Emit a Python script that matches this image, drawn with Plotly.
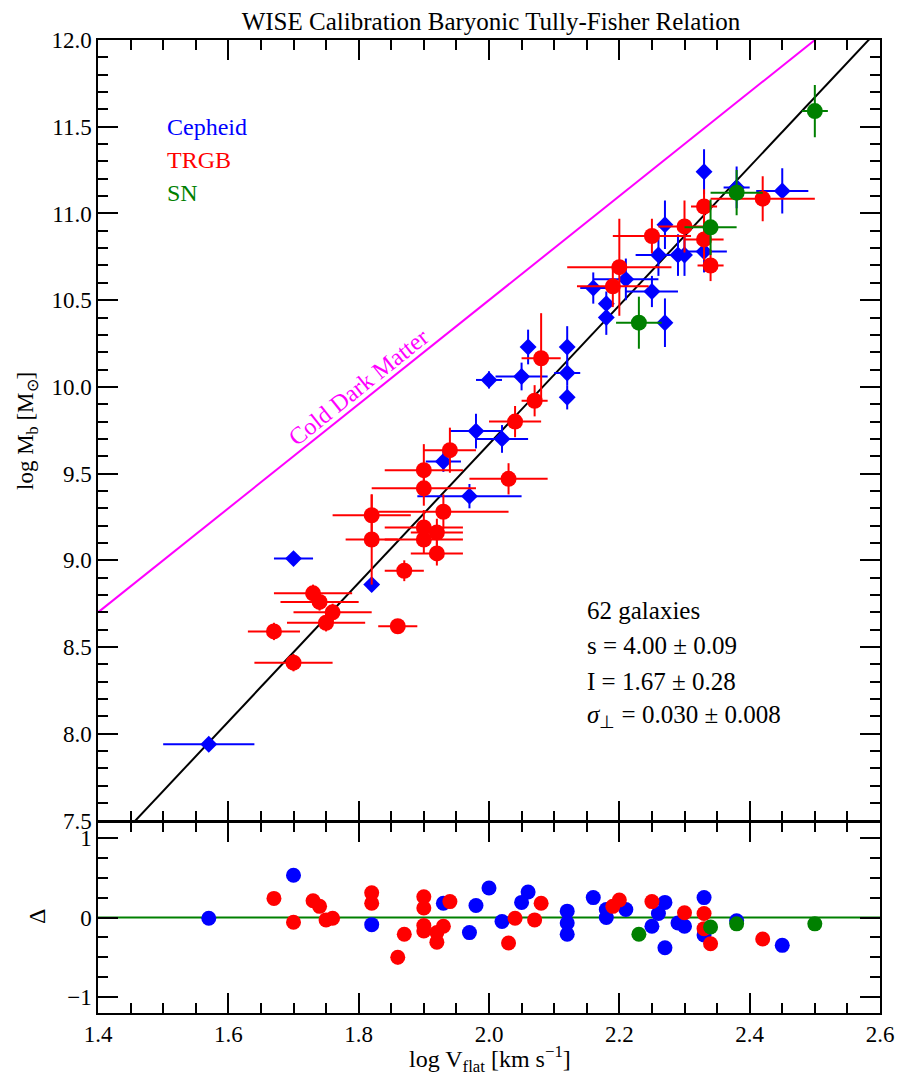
import plotly.graph_objects as go

# ---------------- data ----------------
# Cepheid calibrators
ceph_x = [1.57, 1.70, 1.82, 1.93, 1.97, 1.98, 2.00, 2.02, 2.05, 2.06, 2.12, 2.12, 2.12, 2.16,
          2.18, 2.18, 2.21, 2.25, 2.26, 2.27, 2.27, 2.29, 2.30, 2.33, 2.33, 2.38, 2.45]
ceph_y = [7.94, 9.01, 8.86, 9.57, 9.37, 9.745, 10.04, 9.70, 10.06, 10.23, 10.23, 10.08, 9.94, 10.57,
          10.48, 10.40, 10.62, 10.55, 10.76, 10.935, 10.37, 10.76, 10.76, 11.24, 10.78, 11.15, 11.13]
ceph_xerr = [0.07, 0.03, 0.01, 0.027, 0.08, 0.04, 0.02, 0.04, 0.04, 0.01, 0.01, 0.02, 0.01, 0.02,
             0.01, 0.01, 0.05, 0.04, 0.035, 0.01, 0.01, 0.01, 0.01, 0.01, 0.035, 0.02, 0.04]
ceph_yerr = [0.03, 0.03, 0.04, 0.06, 0.07, 0.10, 0.05, 0.08, 0.08, 0.10, 0.12, 0.07, 0.07, 0.09,
             0.07, 0.10, 0.12, 0.09, 0.12, 0.14, 0.14, 0.12, 0.12, 0.13, 0.12, 0.12, 0.13]
ceph_res = [-0.01, 0.53, -0.09, 0.18, -0.19, 0.15, 0.37, -0.05, 0.19, 0.32, 0.08, -0.07, -0.21, 0.25,
            0.10, 0.00, 0.10, -0.11, 0.05, 0.19, -0.38, -0.07, -0.11, 0.25, -0.22, -0.04, -0.35]
ceph_reserr = [0.0, 0.07, 0, 0, 0, 0, 0, 0, 0, 0, 0, 0, 0, 0,
               0, 0, 0, 0, 0, 0, 0, 0, 0, 0, 0, 0, 0]

# TRGB calibrators
trgb_x = [1.67, 1.70, 1.73, 1.74, 1.75, 1.76, 1.82, 1.82, 1.86, 1.87, 1.90, 1.90, 1.90, 1.90, 1.92,
          1.92, 1.93, 1.94, 2.03, 2.04, 2.07, 2.08, 2.19, 2.20, 2.25, 2.30, 2.33, 2.33, 2.34, 2.42]
trgb_y = [8.59, 8.41, 8.81, 8.76, 8.64, 8.70, 9.26, 9.12, 8.62, 8.94, 9.52, 9.415, 9.19, 9.12, 9.16,
          9.04, 9.28, 9.635, 9.47, 9.80, 9.92, 10.165, 10.58, 10.69, 10.87, 10.925, 11.04, 10.85, 10.70, 11.085]
trgb_xerr = [0.04, 0.06, 0.06, 0.06, 0.06, 0.06, 0.06, 0.04, 0.03, 0.03, 0.06, 0.08, 0.06, 0.06, 0.04,
             0.04, 0.10, 0.04, 0.06, 0.04, 0.02, 0.03, 0.055, 0.08, 0.06, 0.04, 0.02, 0.03, 0.02, 0.08]
trgb_yerr = [0.05, 0.05, 0.05, 0.05, 0.05, 0.05, 0.12, 0.26, 0.04, 0.06, 0.15, 0.10, 0.10, 0.08, 0.08,
             0.07, 0.10, 0.13, 0.09, 0.09, 0.09, 0.26, 0.12, 0.28, 0.10, 0.15, 0.10, 0.12, 0.09, 0.13]
trgb_res = [0.24, -0.06, 0.21, 0.14, -0.03, -0.01, 0.31, 0.18, -0.50, -0.21, 0.26, 0.12, -0.10, -0.17, -0.19,
            -0.31, -0.11, 0.20, -0.32, -0.01, -0.03, 0.18, 0.14, 0.22, 0.20, 0.06, 0.05, -0.14, -0.33, -0.27]
trgb_reserr = [0, 0, 0, 0, 0, 0, 0, 0, 0.09, 0, 0, 0, 0, 0, 0,
               0, 0, 0, 0, 0, 0, 0, 0, 0, 0, 0, 0, 0, 0, 0]

# SN calibrators
sn_x = [2.23, 2.34, 2.38, 2.50]
sn_y = [10.37, 10.92, 11.12, 11.59]
sn_xerr = [0.035, 0.04, 0.04, 0.02]
sn_yerr = [0.15, 0.16, 0.13, 0.15]
sn_res = [-0.21, -0.12, -0.08, -0.08]

# fit and CDM relation
fit_slope, fit_intercept = 4.00, 1.67
cdm_slope, cdm_intercept = 3.0, 4.5
line_x = [1.4, 2.6]

stats_lines = ["62 galaxies", "s = 4.00 \u00b1 0.09", "I = 1.67 \u00b1 0.28",
               "<i>\u03c3</i><sub>\u22a5</sub> = 0.030 \u00b1 0.008"]
legend_names = ["Cepheid", "TRGB", "SN"]

# ---------------- styling ----------------
FONT = "Liberation Serif, Times New Roman, serif"
BLUE, RED, GREEN, MAG = "#0000ff", "#ff0000", "#008000", "#ff00ff"

W, H = 887, 1069
ML, MT, PW, PH = 90, 32, 782, 973
TOP_H, BOT_H = 782, 191
LW = 1.5
bot_dom = [0, BOT_H / PH]
top_dom = [(BOT_H + LW) / PH, 1]
PLOT_BOTTOM = MT + PH  # figure pixel of plot-area bottom

def px_to_paper_x(px):
    return (px - ML) / PW

def px_to_paper_y(py):
    return (PLOT_BOTTOM - py) / PH

fig = go.Figure()

def eb(arr, col):
    return dict(type="data", array=arr, color=col, thickness=2, width=0)

# lines
fig.add_trace(go.Scatter(x=line_x, y=[cdm_slope * v + cdm_intercept for v in line_x], mode="lines",
                         line=dict(color=MAG, width=2), hoverinfo="skip", xaxis="x", yaxis="y"))
fig.add_trace(go.Scatter(x=line_x, y=[fit_slope * v + fit_intercept for v in line_x], mode="lines",
                         line=dict(color="black", width=2), hoverinfo="skip", xaxis="x", yaxis="y"))

# top panel points
fig.add_trace(go.Scatter(x=ceph_x, y=ceph_y, mode="markers", xaxis="x", yaxis="y",
                         marker=dict(symbol="diamond", size=13, color=BLUE),
                         error_x=eb(ceph_xerr, BLUE), error_y=eb(ceph_yerr, BLUE)))
fig.add_trace(go.Scatter(x=trgb_x, y=trgb_y, mode="markers", xaxis="x", yaxis="y",
                         marker=dict(symbol="circle", size=16, color=RED),
                         error_x=eb(trgb_xerr, RED), error_y=eb(trgb_yerr, RED)))
fig.add_trace(go.Scatter(x=sn_x, y=sn_y, mode="markers", xaxis="x", yaxis="y",
                         marker=dict(symbol="circle", size=16, color=GREEN),
                         error_x=eb(sn_xerr, GREEN), error_y=eb(sn_yerr, GREEN)))

# bottom panel
fig.add_trace(go.Scatter(x=line_x, y=[0, 0], mode="lines", line=dict(color=GREEN, width=2),
                         hoverinfo="skip", xaxis="x2", yaxis="y2"))
fig.add_trace(go.Scatter(x=ceph_x, y=ceph_res, mode="markers", xaxis="x2", yaxis="y2",
                         marker=dict(size=15, color=BLUE), error_y=eb(ceph_reserr, BLUE)))
fig.add_trace(go.Scatter(x=trgb_x, y=trgb_res, mode="markers", xaxis="x2", yaxis="y2",
                         marker=dict(size=15, color=RED), error_y=eb(trgb_reserr, RED)))
fig.add_trace(go.Scatter(x=sn_x, y=sn_res, mode="markers", xaxis="x2", yaxis="y2",
                         marker=dict(size=15, color=GREEN)))

def axis(**kw):
    d = dict(showline=True, linecolor="black", linewidth=LW, mirror="allticks",
             ticks="inside", ticklen=20, tickwidth=1.5, tickcolor="black",
             showgrid=False, zeroline=False, automargin=False,
             tickfont=dict(family=FONT, size=23, color="black"))
    d.update(kw)
    return d

xminor = dict(ticks="inside", ticklen=10, dtick=0.05, tickwidth=1.5, tickcolor="black")

fig.update_layout(
    xaxis=axis(range=[1.4, 2.6], dtick=0.2, tickformat=".1f", minor=xminor,
               showticklabels=False, anchor="y", matches="x2"),
    xaxis2=axis(range=[1.4, 2.6], dtick=0.2, tickformat=".1f", minor=xminor, anchor="y2"),
    yaxis=axis(domain=top_dom, anchor="x", range=[7.5, 12.0], dtick=0.5, tickformat=".1f",
               minor=dict(ticks="inside", ticklen=10, dtick=0.1, tickwidth=1.5, tickcolor="black")),
    yaxis2=axis(domain=bot_dom, anchor="x2", range=[-1.2, 1.2], tickvals=[-1, 0, 1],
                ticktext=["\u22121", "0", "1"],
                minor=dict(ticks="inside", ticklen=10, dtick=0.25, tickwidth=1.5, tickcolor="black")),
)

# axis titles as paper annotations
fig.add_annotation(text="log V<sub>flat</sub> [km s<sup>\u22121</sup>]", xref="paper", yref="paper",
                   x=px_to_paper_x(482), y=px_to_paper_y(1051), xanchor="center", yanchor="middle",
                   showarrow=False, font=dict(family=FONT, size=24, color="black"))
fig.add_annotation(text="log M<sub>b</sub> [M<sub>\u2299</sub>]", xref="paper", yref="paper",
                   x=px_to_paper_x(19), y=px_to_paper_y(423), xanchor="center", yanchor="middle",
                   textangle=-90, showarrow=False, font=dict(family=FONT, size=23, color="black"))
fig.add_annotation(text="\u0394", xref="paper", yref="paper",
                   x=px_to_paper_x(29), y=px_to_paper_y(909), xanchor="center", yanchor="middle",
                   textangle=-90, showarrow=False, font=dict(family=FONT, size=24, color="black"))

# annotations: legend text
leg_colors = [BLUE, RED, GREEN]
leg_y = [11.50, 11.31, 11.12]
for name, col, yy in zip(legend_names, leg_colors, leg_y):
    fig.add_annotation(x=1.503, y=yy, xref="x", yref="y", text=name, showarrow=False,
                       xanchor="left", yanchor="middle",
                       font=dict(family=FONT, size=24, color=col))

# stats text
stat_y = [8.71, 8.51, 8.30, 8.10]
for txt, yy in zip(stats_lines, stat_y):
    fig.add_annotation(x=2.147, y=yy, xref="x", yref="y", text=txt, showarrow=False,
                       xanchor="left", yanchor="middle",
                       font=dict(family=FONT, size=25, color="black"))

# CDM label
fig.add_annotation(x=1.80, y=10.0, xref="x", yref="y", text="Cold Dark Matter", showarrow=False,
                   textangle=-38.6, font=dict(family=FONT, size=24, color=MAG))

fig.update_layout(
    width=W, height=H,
    margin=dict(l=ML, r=W - ML - PW, t=MT, b=H - MT - PH),
    paper_bgcolor="white", plot_bgcolor="white",
    title=dict(text="WISE Calibration Baryonic Tully-Fisher Relation", x=483 / W, xanchor="center",
               y=1 - 4 / H, yanchor="top", automargin=False, pad=dict(t=0, b=0),
               font=dict(family=FONT, size=25, color="black")),
    showlegend=False,
)

fig.write_html("out.html")
